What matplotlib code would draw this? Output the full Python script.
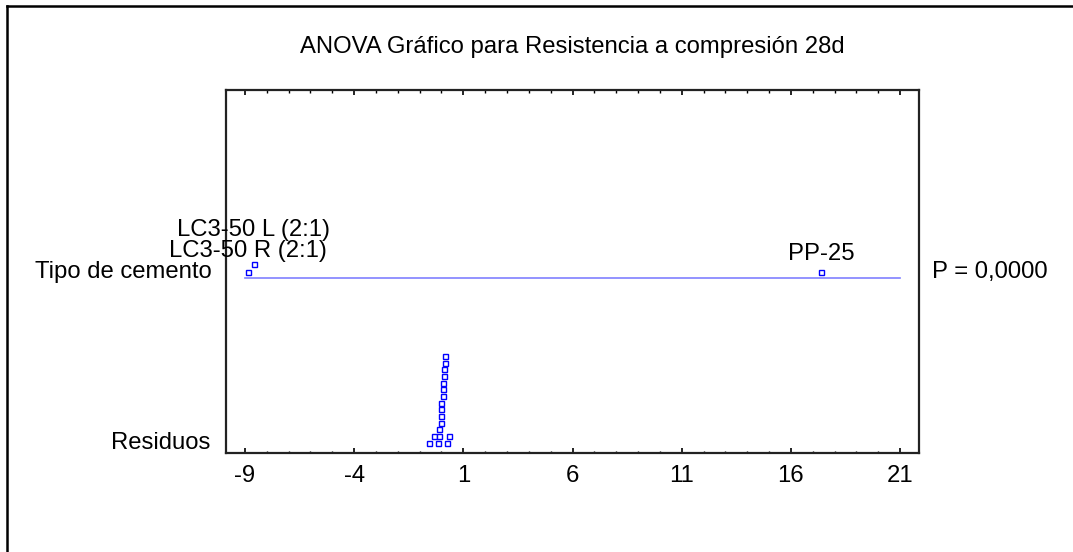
import matplotlib.pyplot as plt
from matplotlib.lines import Line2D
from matplotlib.ticker import MultipleLocator

plt.rcParams['font.family'] = ['Liberation Sans', 'DejaVu Sans']

# texts
title = 'ANOVA Gráfico para Resistencia a compresión 28d'
factor_name = 'Tipo de cemento'
resid_name = 'Residuos'
p_text = 'P = 0,0000'

# scaled group effects
groups = ['LC3-50 R (2:1)', 'LC3-50 L (2:1)', 'PP-25']
group_effects = [-8.86, -8.59, 17.38]
group_stack = [0, 1, 0]

# residuals and how high each one sits in the dot stack
residuals = [-0.55, -0.14, 0.25, -0.33, -0.10, 0.36, -0.10,
             -0.01, -0.01, -0.01, -0.01, 0.07, 0.07, 0.07,
             0.12, 0.12, 0.16, 0.16]
resid_stack = [0, 0, 0, 1, 1, 1, 2, 3, 4, 5, 6, 7, 8, 9, 10, 11, 12, 13]

xticks = [-9, -4, 1, 6, 11, 16, 21]

# layout (axes y runs in pixels from the bottom of the frame)
W, H = 1073, 552
FS = 17.2
BLUE = '#0000ff'
ROW_GROUP, STEP_GROUP = 181, 8
ROW_RESID, STEP_RESID = 10.3, 6.67
LABEL_OFFSETS = [10.8, 20.0, 8.6]

fig = plt.figure(figsize=(W / 100, H / 100), dpi=100)
ax = fig.add_axes([226 / W, 1 - 453 / H, (919 - 226) / W, (453 - 90) / H])
ax.set_xlim(-9.87, 21.87)
ax.set_ylim(0, 363)

# horizontal line for the factor
ax.plot([min(xticks), max(xticks)], [ROW_GROUP - 6, ROW_GROUP - 6],
        color='#8080ff', lw=1.2, zorder=1)

gy = [ROW_GROUP + s * STEP_GROUP for s in group_stack]
ax.plot(group_effects, gy, ls='none', marker='s', ms=3.6, mfc='white',
        mec=BLUE, mew=1.0, zorder=3)
for name, x, y, off in zip(groups, group_effects, gy, LABEL_OFFSETS):
    ax.annotate(name, (x, y), xytext=(0, off), textcoords='offset points',
                ha='center', va='baseline', fontsize=FS, zorder=4)

ry = [ROW_RESID + s * STEP_RESID for s in resid_stack]
ax.plot(residuals, ry, ls='none', marker='s', ms=3.6, mfc='white',
        mec=BLUE, mew=1.0, zorder=3)

# row labels and p-value
ax.text(-0.02, ROW_GROUP, factor_name, transform=ax.get_yaxis_transform(),
        ha='right', va='center', fontsize=FS)
ax.text(-0.023, ROW_RESID, resid_name, transform=ax.get_yaxis_transform(),
        ha='right', va='center', fontsize=FS)
ax.text(1.019, ROW_GROUP, p_text, transform=ax.get_yaxis_transform(),
        ha='left', va='center', fontsize=FS)

ax.set_title(title, fontsize=FS, pad=26.5)

# axes styling
ax.set_xticks(xticks)
ax.set_xticklabels([str(t) for t in xticks], fontsize=FS)
ax.xaxis.set_minor_locator(MultipleLocator(1))
ax.tick_params(axis='x', which='major', direction='in', length=3.8,
               width=1.2, top=True, pad=9)
ax.tick_params(axis='x', which='minor', direction='in', length=1.8,
               width=1.0, top=True)
ax.set_yticks([])
for sp in ax.spines.values():
    sp.set_linewidth(1.6)
    sp.set_color('#222222')

# outer frame (left and top edges visible)
fig.add_artist(Line2D([7 / W, 7 / W], [0, 1 - 6 / H], color='black', lw=1.8,
                      transform=fig.transFigure))
fig.add_artist(Line2D([7 / W, 1], [1 - 6 / H, 1 - 6 / H], color='black',
                      lw=1.8, transform=fig.transFigure))

fig.savefig('out.png', dpi=100)
